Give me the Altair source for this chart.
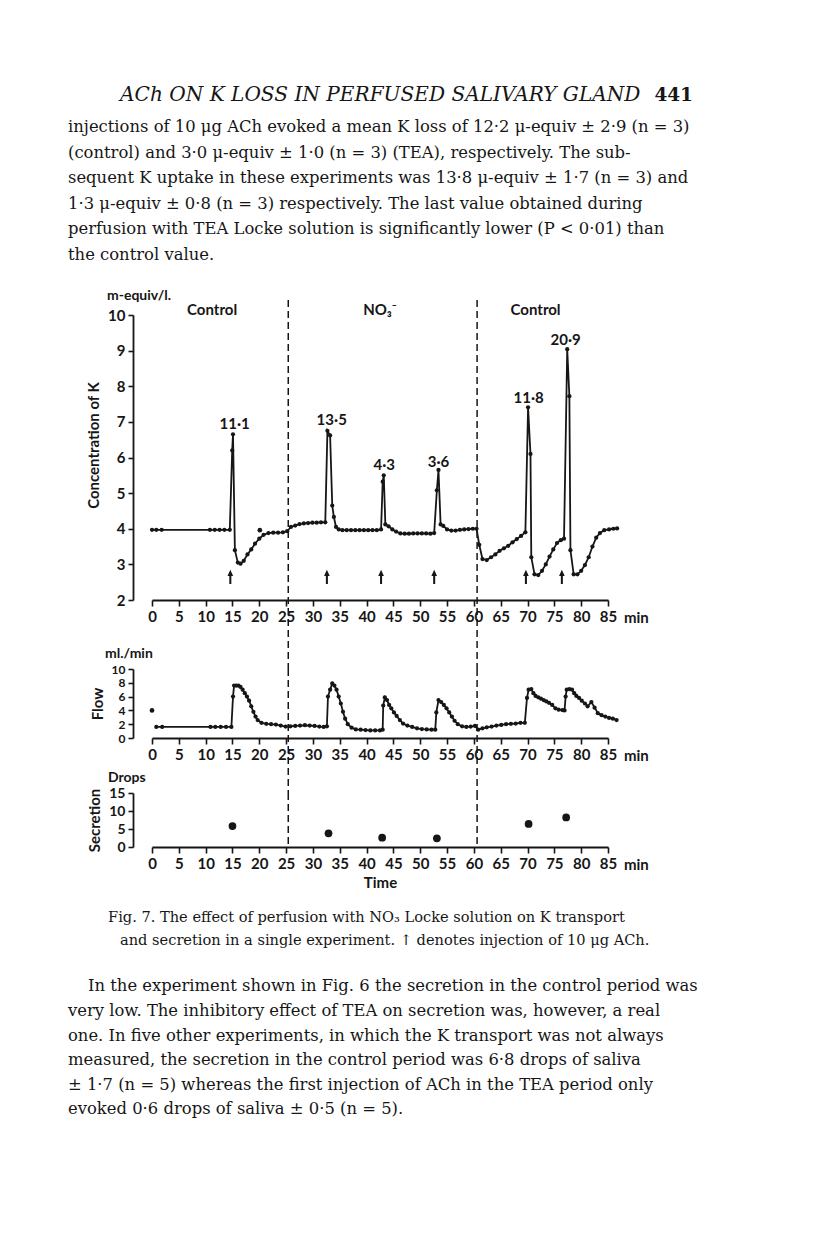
import altair as alt
import pandas as pd

# ---------------- data ----------------
k_time = [0, 0.8, 1.8, 10.8, 11.7, 12.6, 13.5, 14.5, 14.95, 15.1, 15.45, 16.0, 16.5, 17.1, 17.8,
          18.5, 19.2, 20.0, 20.8, 21.7, 22.6, 23.5, 24.4, 25.2, 25.9, 26.7, 27.5, 28.3, 29.1, 29.9,
          30.7, 31.5, 32.3, 32.7, 33.2, 33.6, 33.9, 34.3, 34.8, 35.5, 36.3, 37.1, 37.9, 38.7, 39.5,
          40.3, 41.1, 41.9, 42.7, 43.0, 43.2, 43.5, 44.1, 44.8, 45.5, 46.3, 47.1, 47.9, 48.7, 49.5,
          50.3, 51.1, 51.9, 52.6, 53.1, 53.4, 53.8, 54.3, 55.0, 55.8, 56.6, 57.4, 58.2, 59.0, 59.8,
          60.5, 61.0, 61.6, 62.4, 63.2, 64.0, 64.8, 65.6, 66.4, 67.2, 68.0, 68.8, 69.6, 70.1, 70.55,
          70.7, 71.3, 72.0, 72.7, 73.4, 74.1, 74.8, 75.5, 76.2, 76.8, 77.4, 77.8, 78.0, 78.6, 79.3,
          80.0, 80.7, 81.4, 82.1, 82.8, 83.5, 84.3, 85.2, 86.0, 86.7]
k_conc = [3.97, 3.97, 3.97, 3.97, 3.97, 3.97, 3.97, 3.97, 6.2, 6.65, 3.4, 3.05, 3.02, 3.1, 3.28,
          3.42, 3.58, 3.72, 3.83, 3.88, 3.89, 3.89, 3.9, 3.93, 4.05, 4.09, 4.13, 4.15, 4.16, 4.17,
          4.17, 4.18, 4.18, 6.75, 6.62, 4.65, 4.33, 4.05, 3.98, 3.96, 3.96, 3.96, 3.96, 3.96, 3.96,
          3.96, 3.96, 3.96, 3.98, 5.32, 5.5, 4.12, 4.07, 3.98, 3.92, 3.87, 3.86, 3.86, 3.87, 3.87,
          3.87, 3.87, 3.86, 3.88, 5.08, 5.65, 4.12, 4.08, 3.98, 3.95, 3.95, 3.97, 3.98, 3.99, 4.0,
          4.0, 3.55, 3.15, 3.12, 3.2, 3.28, 3.38, 3.45, 3.52, 3.62, 3.71, 3.8, 3.9, 7.41, 6.1,
          3.2, 2.72, 2.7, 2.82, 3.0, 3.22, 3.42, 3.6, 3.68, 3.72, 9.04, 7.72, 3.4, 2.72, 2.72,
          2.82, 2.98, 3.2, 3.5, 3.75, 3.88, 3.96, 3.98, 4.0, 4.01]
k_stray_time = [20.1]
k_stray_conc = [3.96]

peak_time = [15.4, 33.5, 43.3, 53.4, 70.2, 77.1]
peak_conc = [6.95, 7.05, 5.8, 5.88, 7.66, 9.3]
peak_label = ["11·1", "13·5", "4·3", "3·6", "11·8", "20·9"]

ach_time = [14.6, 32.6, 42.7, 52.6, 69.7, 76.4]
ach_level = [2.65, 2.65, 2.65, 2.65, 2.65, 2.65]

period_time = [11.2, 42.5, 71.5]
period_label = ["Control", "NO₃⁻", "Control"]
switch_time = [25.4, 60.6]

flow_time = [0.8, 1.9, 10.9, 11.8, 12.8, 13.8, 14.8, 15.1, 15.3, 15.7, 16.1, 16.5, 16.9, 17.3,
             17.7, 18.1, 18.5, 18.9, 19.3, 19.7, 20.4, 21.3, 22.2, 23.1, 24.0, 24.9, 25.8, 26.7,
             27.6, 28.5, 29.4, 30.3, 31.2, 32.0, 32.6, 32.8, 33.2, 33.6, 34.0, 34.4, 34.8, 35.2,
             35.6, 36.0, 36.5, 37.2, 38.0, 38.9, 39.8, 40.7, 41.6, 42.5, 43.0, 43.1, 43.4, 43.8,
             44.2, 44.6, 45.1, 45.6, 46.2, 46.8, 47.6, 48.5, 49.4, 50.3, 51.2, 52.1, 52.8, 53.0,
             53.4, 53.9, 54.4, 54.9, 55.4, 55.9, 56.4, 57.0, 57.8, 58.6, 59.4, 60.2, 60.8, 61.6,
             62.4, 63.3, 64.2, 65.1, 66.0, 66.9, 67.8, 68.7, 69.5, 69.9, 70.2, 70.7, 71.1, 71.5,
             72.0, 72.5, 73.0, 73.5, 74.0, 74.6, 75.2, 75.8, 76.5, 76.9, 77.1, 77.3, 77.8, 78.3,
             78.7, 79.1, 79.6, 80.1, 80.7, 81.2, 81.9, 82.5, 83.1, 83.8, 84.5, 85.2, 85.9, 86.6]
flow_rate = [1.6, 1.6, 1.6, 1.6, 1.6, 1.6, 1.6, 6.0, 7.6, 7.6, 7.6, 7.4, 7.0, 6.5,
             6.0, 5.4, 4.6, 3.8, 3.1, 2.6, 2.2, 2.05, 2.0, 1.95, 1.8, 1.65, 1.7, 1.75,
             1.8, 1.85, 1.8, 1.75, 1.65, 1.6, 1.7, 6.0, 7.0, 7.9, 7.6, 7.0, 6.0, 5.0,
             3.8, 2.8, 2.0, 1.5, 1.25, 1.2, 1.15, 1.1, 1.1, 1.1, 1.2, 4.7, 5.9, 5.5,
             4.8, 4.3, 3.7, 3.2, 2.6, 2.1, 1.8, 1.6, 1.4, 1.3, 1.25, 1.2, 1.2, 3.7,
             5.5, 5.2, 4.8, 4.3, 3.7, 3.1, 2.5, 2.0, 1.7, 1.6, 1.65, 1.75, 1.2, 1.4,
             1.55, 1.65, 1.8, 1.9, 2.0, 2.05, 2.1, 2.2, 2.2, 5.8, 7.0, 7.1, 6.5, 6.1,
             5.9, 5.7, 5.5, 5.3, 5.1, 4.8, 4.3, 4.1, 4.05, 4.0, 6.0, 7.0, 7.1, 7.0,
             6.5, 6.1, 5.8, 5.4, 5.0, 4.6, 5.2, 4.4, 3.6, 3.3, 3.1, 2.9, 2.8, 2.6]
flow_stray_time = [0.0]
flow_stray_rate = [4.0]

drops_time = [15.0, 32.9, 42.9, 53.1, 70.2, 77.2]
drops_count = [5.8, 3.8, 2.6, 2.4, 6.4, 8.2]

time_ticks = [0, 5, 10, 15, 20, 25, 30, 35, 40, 45, 50, 55, 60, 65, 70, 75, 80, 85]
k_ticks = [2, 3, 4, 5, 6, 7, 8, 9, 10]
flow_ticks = [0, 2, 4, 6, 8, 10]
drops_ticks = [0, 5, 10, 15]

header_title = "ACh ON K LOSS IN PERFUSED SALIVARY GLAND"
header_page = "441"
para_top = [
    "injections of 10 μg ACh evoked a mean K loss of 12·2 μ-equiv ± 2·9 (n = 3)",
    "(control)  and  3·0 μ-equiv ± 1·0 (n = 3)  (TEA),  respectively.  The  sub-",
    "sequent K uptake in these experiments was 13·8 μ-equiv ± 1·7 (n = 3) and",
    "1·3 μ-equiv ± 0·8 (n = 3)  respectively.  The  last  value  obtained  during",
    "perfusion with TEA Locke solution is significantly lower (P < 0·01) than",
    "the control value.",
]
caption_1 = "Fig. 7. The effect of perfusion with NO₃ Locke solution on K transport"
caption_2 = "and secretion in a single experiment. ↑ denotes injection of 10 μg ACh."
para_bottom_first = "In the experiment shown in Fig. 6 the secretion in the control period was"
para_bottom = [
    "very low. The inhibitory effect of TEA on secretion was, however, a real",
    "one. In five other experiments, in which the K transport was not always",
    "measured,  the  secretion  in  the  control  period  was  6·8  drops  of  saliva",
    "± 1·7 (n = 5) whereas the first injection of ACh in the TEA period only",
    "evoked 0·6 drops of saliva ± 0·5 (n = 5).",
]

# ---------------- styling ----------------
INK = "#161616"
SANS = "Lato"
SERIF = "DejaVu Serif"
W = 456
H_K, H_F, H_S = 285, 69, 54
GAP1, GAP2 = 69, 55

k_df = pd.DataFrame({"t": k_time, "v": k_conc})
k_stray = pd.DataFrame({"t": k_stray_time, "v": k_stray_conc})
peak_df = pd.DataFrame({"t": peak_time, "v": peak_conc, "lab": peak_label})
ach_df = pd.DataFrame({"t": ach_time, "v": ach_level})
period_df = pd.DataFrame({"t": period_time, "lab": period_label})
switch_df = pd.DataFrame({"t": switch_time})
flow_df = pd.DataFrame({"t": flow_time, "v": flow_rate})
flow_stray = pd.DataFrame({"t": flow_stray_time, "v": flow_stray_rate})
drops_df = pd.DataFrame({"t": drops_time, "v": drops_count})
one = pd.DataFrame({"t": [85]})


def x_enc(title=None):
    ax = alt.Axis(values=time_ticks, grid=False, tickSize=6, tickCount=18,
                  labelPadding=3, labelFontSize=15, labelFont=SANS,
                  labelFontWeight="bold", labelColor=INK, labelFlush=False,
                  labelOverlap=False,
                  domainColor=INK, tickColor=INK, domainWidth=1.8, tickWidth=1.6,
                  titleFont=SANS, titleFontSize=15, titleFontWeight="bold",
                  titleColor=INK, titlePadding=4)
    return alt.X("t:Q", scale=alt.Scale(domain=[0, 85], nice=False, zero=False),
                 axis=ax, title=title)


def y_enc(domain, ticks, title, title_y=None, label_size=15):
    ax = dict(values=ticks, tickCount=len(ticks), grid=False, offset=19, tickSize=5,
              labelPadding=3, labelFontSize=label_size, labelFont=SANS, labelFontWeight="bold",
              labelColor=INK, labelOverlap=False, labelBound=False,
              domainColor=INK, tickColor=INK, domainWidth=1.8, tickWidth=1.6,
              titleFont=SANS, titleFontSize=15, titleFontWeight="bold", titleColor=INK,
              titlePadding=6)
    if title_y is not None:
        ax["titleY"] = title_y
    return alt.Y("v:Q", scale=alt.Scale(domain=domain, nice=False, zero=False),
                 axis=alt.Axis(**ax), title=title)


def dashed(xe, y_top, y_bottom):
    return alt.Chart(switch_df).mark_rule(color=INK, strokeDash=[7, 4], strokeWidth=1.5).encode(
        x=xe, y=alt.value(y_top), y2=alt.value(y_bottom))


def min_label(xe, h):
    return alt.Chart(one).mark_text(text="min", font=SANS, fontSize=15, fontWeight="bold",
                                    color=INK, align="left", baseline="middle", dx=16).encode(
        x=xe, y=alt.value(h + 18))


def side_label(txt, dx, dy):
    return alt.Chart(one).mark_text(text=txt, font=SANS, fontSize=14, fontWeight="bold",
                                    color=INK, align="left", baseline="middle").encode(
        x=alt.value(dx), y=alt.value(dy))


def serif_text(txt, x, y, size=16, italic=False, bold=False, align="left", line_height=25):
    props = dict(font=SERIF, fontSize=size, color=INK, align=align, baseline="alphabetic",
                 lineBreak="\n", lineHeight=line_height)
    if italic:
        props["fontStyle"] = "italic"
    if bold:
        props["fontWeight"] = "bold"
    return alt.Chart(one).mark_text(text=txt, **props).encode(x=alt.value(x), y=alt.value(y))


# ---------------- K concentration panel ----------------
xk = x_enc()
yk = y_enc([2, 10], k_ticks, "Concentration of K", 130)
k_line = alt.Chart(k_df).mark_line(
    color=INK, strokeWidth=1.8,
    point=alt.OverlayMarkDef(filled=True, size=18, color=INK)
).encode(x=xk, y=yk)
k_extra = alt.Chart(k_stray).mark_point(filled=True, size=22, color=INK, opacity=1).encode(
    x=xk, y=yk)
k_peaks = alt.Chart(peak_df).mark_text(font=SANS, fontSize=15, fontWeight="bold", color=INK,
                                       baseline="middle").encode(x=xk, y=yk, text="lab:N")
k_arrows = alt.Chart(ach_df).mark_point(shape="arrow", filled=True, size=200, color=INK,
                                        opacity=1, strokeWidth=1).encode(x=xk, y=yk)
k_periods = alt.Chart(period_df).mark_text(font=SANS, fontSize=15, fontWeight="bold", color=INK,
                                           baseline="middle").encode(
    x=xk, y=alt.value(-5), text="lab:N")

top_text = alt.layer(
    serif_text(header_title, -32, -214, size=20.1, italic=True),
    serif_text(header_page, 541, -214, size=18.5, bold=True, align="right"),
    serif_text("\n".join(para_top), -84, -183, size=16.4, line_height=25.6),
)

k_panel = alt.layer(
    k_line, dashed(xk, -15, H_K + GAP1),
    k_extra, k_peaks, k_arrows, k_periods,
    side_label("m-equiv/l.", -45, -19),
    min_label(xk, H_K),
    top_text,
).properties(width=W, height=H_K)

# ---------------- flow panel ----------------
xf = x_enc()
yf = y_enc([0, 10], flow_ticks, "Flow", label_size=12)
f_line = alt.Chart(flow_df).mark_line(
    color=INK, strokeWidth=1.8,
    point=alt.OverlayMarkDef(filled=True, size=18, color=INK)
).encode(x=xf, y=yf)
f_extra = alt.Chart(flow_stray).mark_point(filled=True, size=22, color=INK, opacity=1).encode(
    x=xf, y=yf)
f_panel = alt.layer(
    f_line, dashed(xf, 0, H_F + GAP2), f_extra,
    side_label("ml./min", -47, -15),
    min_label(xf, H_F),
).properties(width=W, height=H_F)

# ---------------- secretion panel ----------------
xs = x_enc("Time")
ys = y_enc([0, 15], drops_ticks, "Secretion", label_size=14)
s_pts = alt.Chart(drops_df).mark_point(filled=True, size=60, color=INK, opacity=1).encode(
    x=xs, y=ys)
bottom_text = alt.layer(
    serif_text(caption_1, -44, 129, size=14.6),
    serif_text(caption_2, -32, 152, size=14.6),
    serif_text(para_bottom_first, -64, 198, size=16.4),
    serif_text("\n".join(para_bottom), -84, 223, size=16.4, line_height=24.6),
)
s_panel = alt.layer(
    s_pts, dashed(xs, 0, H_S),
    side_label("Drops", -44, -15),
    min_label(xs, H_S),
    bottom_text,
).properties(width=W, height=H_S)


def spacer(h):
    return alt.Chart(one).mark_point(opacity=0).encode(
        x=alt.X("t:Q", axis=None), y=alt.Y("t:Q", axis=None)).properties(width=W, height=h)


chart = alt.vconcat(
    k_panel, spacer(GAP1), f_panel, spacer(GAP2), s_panel,
    spacing=0, bounds="flush"
).properties(
    padding={"left": 60, "top": 77, "right": 5, "bottom": 5}
).configure(
    background="white"
).configure_view(
    stroke=None
).configure_axis(
    grid=False, labelOverlap=False
)

chart.save("out.html", embed_options={"renderer": "svg", "actions": False})
